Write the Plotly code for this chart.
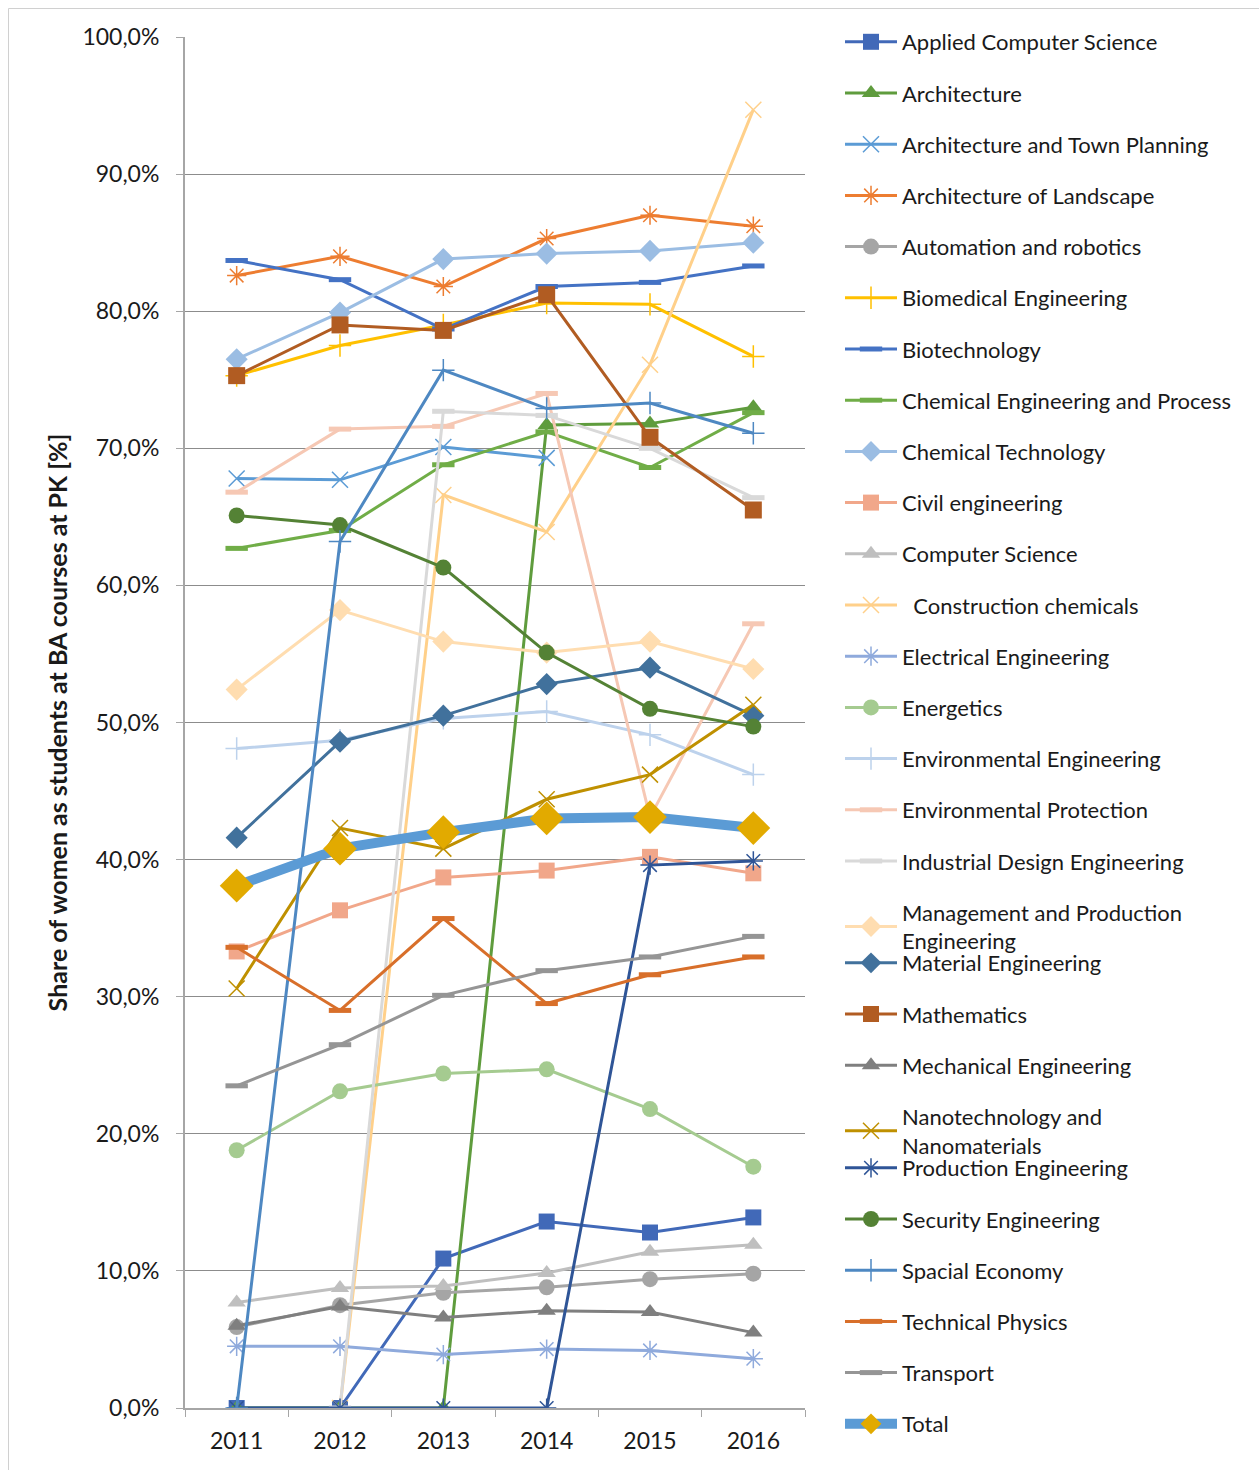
import plotly.graph_objects as go

# Academic years on the category axis
years = ["2011", "2012", "2013", "2014", "2015", "2016"]

# Share of women among BA students per field of study [%]
applied_computer_science = [0.0, 0.0, 10.9, 13.6, 12.8, 13.9]
architecture = [0.0, 0.0, 0.0, 71.7, 71.8, 73.0]
architecture_town_planning = [67.8, 67.7, 70.1, 69.3, None, None]
architecture_landscape = [82.6, 84.0, 81.8, 85.3, 87.0, 86.2]
automation_robotics = [5.9, 7.5, 8.4, 8.8, 9.4, 9.8]
biomedical_engineering = [75.3, 77.5, 79.0, 80.6, 80.5, 76.7]
biotechnology = [83.7, 82.3, 78.7, 81.8, 82.1, 83.3]
chemical_engineering_process = [62.7, 64.0, 68.8, 71.2, 68.6, 72.6]
chemical_technology = [76.5, 79.9, 83.8, 84.2, 84.4, 85.0]
civil_engineering = [33.3, 36.3, 38.7, 39.2, 40.2, 39.0]
computer_science = [7.7, 8.75, 8.9, 9.85, 11.4, 11.9]
construction_chemicals = [None, 0.0, 66.6, 63.9, 76.1, 94.7]
electrical_engineering = [4.5, 4.5, 3.9, 4.3, 4.2, 3.6]
energetics = [18.8, 23.1, 24.4, 24.7, 21.8, 17.6]
environmental_engineering = [48.1, 48.7, 50.3, 50.8, 49.1, 46.2]
environmental_protection = [66.8, 71.4, 71.6, 74.0, 43.1, 57.2]
industrial_design_engineering = [None, 0.0, 72.7, 72.4, 70.0, 66.4]
management_production_engineering = [52.4, 58.2, 55.9, 55.1, 55.9, 53.9]
material_engineering = [41.6, 48.6, 50.5, 52.8, 54.0, 50.5]
mathematics = [75.3, 79.0, 78.6, 81.2, 70.8, 65.5]
mechanical_engineering = [6.0, 7.4, 6.6, 7.1, 7.0, 5.5]
nanotechnology_nanomaterials = [30.6, 42.3, 40.8, 44.4, 46.2, 51.3]
production_engineering = [0.0, 0.0, 0.0, 0.0, 39.6, 39.9]
security_engineering = [65.1, 64.4, 61.3, 55.1, 51.0, 49.7]
spacial_economy = [0.0, 63.2, 75.7, 72.9, 73.3, 71.1]
technical_physics = [33.6, 29.0, 35.7, 29.5, 31.6, 32.9]
transport = [23.5, 26.5, 30.1, 31.9, 32.9, 34.4]
total = [38.1, 40.8, 42.0, 43.0, 43.1, 42.3]

# (legend label, values, line colour, marker symbol, marker size, legend id)
series = [
    ("Applied Computer Science", applied_computer_science, "#4169B8", "square", 16, "legend"),
    ("Architecture", architecture, "#5F9C3D", "triangle-up", 16, "legend"),
    ("Architecture and Town Planning", architecture_town_planning, "#5B9BD5", "x-thin", 16, "legend"),
    ("Architecture of Landscape", architecture_landscape, "#ED7D31", "asterisk", 16, "legend"),
    ("Automation and robotics", automation_robotics, "#A5A5A5", "circle", 16, "legend"),
    ("Biomedical Engineering", biomedical_engineering, "#FFC000", "cross-thin", 16, "legend"),
    ("Biotechnology", biotechnology, "#4472C4", "line-ew", 16, "legend"),
    ("Chemical Engineering and Process", chemical_engineering_process, "#70AD47", "line-ew", 16, "legend"),
    ("Chemical Technology", chemical_technology, "#9BBDE3", "diamond", 17, "legend"),
    ("Civil engineering", civil_engineering, "#F1A78A", "square", 16, "legend"),
    ("Computer Science", computer_science, "#BFBFBF", "triangle-up", 16, "legend"),
    ("  Construction chemicals", construction_chemicals, "#FFD08A", "x-thin", 16, "legend"),
    ("Electrical Engineering", electrical_engineering, "#8FAADC", "asterisk", 16, "legend"),
    ("Energetics", energetics, "#A5CB90", "circle", 16, "legend"),
    ("Environmental Engineering", environmental_engineering, "#BDD2EC", "cross-thin", 16, "legend"),
    ("Environmental Protection", environmental_protection, "#F6C8B4", "line-ew", 16, "legend"),
    ("Industrial Design Engineering", industrial_design_engineering, "#D9D9D9", "line-ew", 16, "legend"),
    ("Management and Production<br>Engineering", management_production_engineering, "#FFDDB0", "diamond", 17, "legend"),
    ("Material Engineering", material_engineering, "#41719C", "diamond", 17, "legend2"),
    ("Mathematics", mathematics, "#B15C22", "square", 17, "legend2"),
    ("Mechanical Engineering", mechanical_engineering, "#7F7F7F", "triangle-up", 16, "legend2"),
    ("Nanotechnology and<br>Nanomaterials", nanotechnology_nanomaterials, "#BF9000", "x-thin", 16, "legend2"),
    ("Production Engineering", production_engineering, "#2F5597", "asterisk", 16, "legend3"),
    ("Security Engineering", security_engineering, "#548235", "circle", 16, "legend3"),
    ("Spacial Economy", spacial_economy, "#4E88C2", "cross-thin", 16, "legend3"),
    ("Technical Physics", technical_physics, "#D86F2A", "line-ew", 16, "legend3"),
    ("Transport", transport, "#959595", "line-ew", 16, "legend3"),
]

LINE_ONLY = {"x-thin", "asterisk", "cross-thin", "line-ew"}

fig = go.Figure()

for i, (name, values, color, symbol, size, legend_id) in enumerate(series):
    if symbol in LINE_ONLY:
        lw = 5 if symbol == "line-ew" else 1.5
        marker = dict(symbol=symbol, size=size, color=color,
                      line=dict(color=color, width=lw))
    else:
        marker = dict(symbol=symbol, size=size, color=color, line=dict(width=0))
    fig.add_trace(go.Scatter(
        x=years, y=values, name=name, mode="lines+markers",
        line=dict(color=color, width=3), marker=marker,
        legend=legend_id, legendgroup=f"g{i}",
    ))

fig.add_trace(go.Scatter(
    x=years, y=total, name="Total", mode="lines+markers",
    line=dict(color="#5B9BD5", width=10),
    marker=dict(symbol="diamond", size=26, color="#E2AA00", line=dict(width=0)),
    legend="legend3", legendgroup="gtotal",
))

FONT = "Lato"
TXT = "#1a1a1a"
legend_style = dict(
    font=dict(family=FONT, size=22, color=TXT),
    bgcolor="rgba(0,0,0,0)",
    xanchor="left", yanchor="top",
    tracegroupgap=19.6,
    itemwidth=52,
    traceorder="grouped",
    maxheight=1400,
)

plot_top, plot_bottom, plot_left, plot_right = 37, 1408, 185, 805
H = plot_bottom - plot_top
W = plot_right - plot_left


def py(pixel_y):
    return (plot_bottom - pixel_y) / H


def px(pixel_x):
    return (pixel_x - plot_left) / W


fig.update_layout(
    width=1259, height=1470,
    margin=dict(l=plot_left, r=1259 - plot_right, t=plot_top, b=1470 - plot_bottom),
    paper_bgcolor="white", plot_bgcolor="white",
    separators=",.",
    font=dict(family=FONT, color=TXT),
    showlegend=True,
    legend=dict(**legend_style, x=px(840), y=py(21)),
    legend2=dict(**legend_style, x=px(840), y=py(942)),
    legend3=dict(**legend_style, x=px(840), y=py(1147)),
    xaxis=dict(
        type="category", range=[-0.5, 5.5],
        showgrid=False, showline=True, linecolor="#a6a6a6", linewidth=1.5,
        ticks="outside", tickson="boundaries", ticklen=7, tickcolor="#a6a6a6",
        tickfont=dict(family=FONT, size=23, color=TXT),
        ticklabelstandoff=12,
        zeroline=False,
    ),
    yaxis=dict(
        range=[0, 100], dtick=10, tickformat=".1f", ticksuffix="%",
        showgrid=True, gridcolor="#8c8c8c", gridwidth=1.2,
        showline=True, linecolor="#a6a6a6", linewidth=2,
        ticks="outside", ticklen=7, tickcolor="#a6a6a6",
        tickfont=dict(family=FONT, size=23, color=TXT),
        ticklabelstandoff=12,
        zeroline=False,
        title=dict(text="Share of women as students at BA courses at PK [%]",
                   font=dict(family=FONT, size=25, color=TXT, weight="bold"),
                   standoff=8),
    ),
    shapes=[dict(type="rect", xref="paper", yref="paper",
                 x0=px(8.5), x1=px(1265), y0=py(1480), y1=py(8.5),
                 line=dict(color="#d0d0d0", width=1), fillcolor="rgba(0,0,0,0)",
                 layer="below")],
)

fig.write_html("out.html")
